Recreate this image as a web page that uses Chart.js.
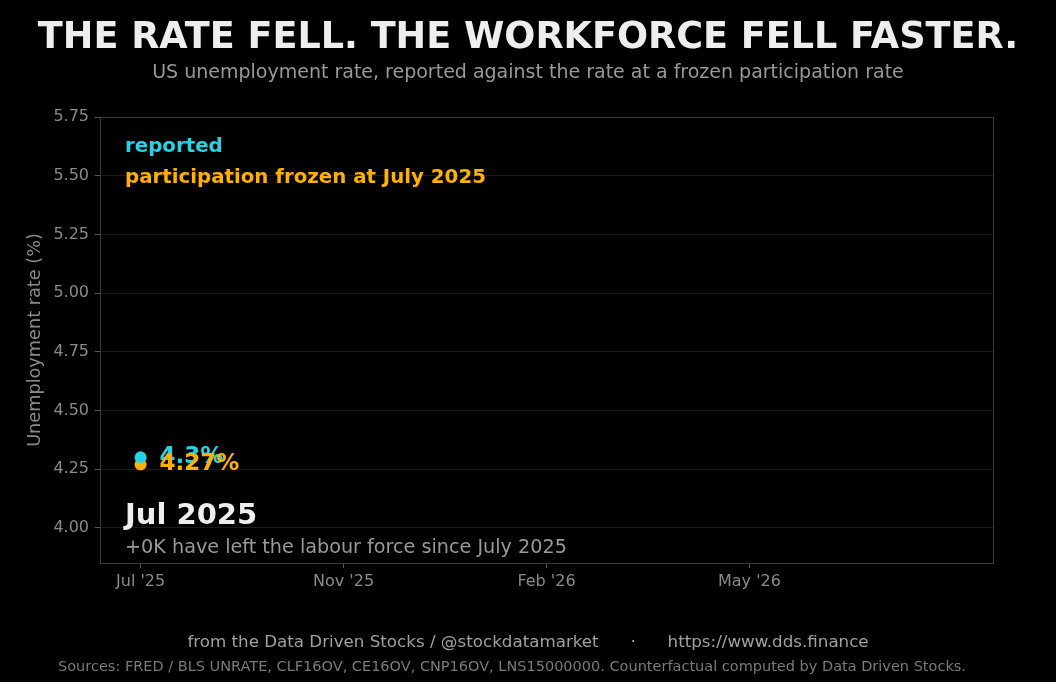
<!DOCTYPE html>
<html>
<head>
<meta charset="utf-8">
<script src="https://cdn.jsdelivr.net/npm/chart.js@4"></script>
<style>
html,body{margin:0;padding:0;background:#000;}
#wrap{width:1056px;height:682px;position:relative;}
</style>
</head>
<body>
<div id="wrap"><canvas id="c" width="1056" height="682"></canvas></div>
<script>
// ---- data ----
const categories = ["Jul 2025"];
const reported = [4.3];
const frozen = [4.27];
const reportedLabels = ["4.3%"];
const frozenLabels = ["4.27%"];
const xTickValues = [0, 1, 2, 3];
const xTickLabels = ["Jul '25", "Nov '25", "Feb '26", "May '26"];
const leftSinceJuly = ["+0K"];

const TITLE = "THE RATE FELL. THE WORKFORCE FELL FASTER.";
const SUBTITLE = "US unemployment rate, reported against the rate at a frozen participation rate";
const FOOT1 = "from the Data Driven Stocks / @stockdatamarket      \u00b7      https://www.dds.finance";
const FOOT2 = "Sources: FRED / BLS UNRATE, CLF16OV, CE16OV, CNP16OV, LNS15000000. Counterfactual computed by Data Driven Stocks.";

const CYAN = '#26d3e4';
const ORANGE = '#ffb000';
const SANS = '"DejaVu Sans", sans-serif';

const textPlugin = {
  id: 'texts',
  beforeDraw(chart) {
    const ctx = chart.ctx;
    ctx.save();
    ctx.fillStyle = '#000';
    ctx.fillRect(0, 0, chart.width, chart.height);
    ctx.restore();
  },
  afterDraw(chart) {
    const ctx = chart.ctx;
    const a = chart.chartArea;
    const xs = chart.scales.x, ys = chart.scales.y;
    ctx.save();
    // frame
    ctx.strokeStyle = '#3a3a3a';
    ctx.lineWidth = 1;
    ctx.strokeRect(Math.round(a.left) + 0.5, Math.round(a.top) + 0.5, Math.round(a.right - a.left), Math.round(a.bottom - a.top));
    // title
    ctx.textAlign = 'center';
    ctx.textBaseline = 'alphabetic';
    ctx.fillStyle = '#eeeeee';
    ctx.font = 'bold 36.6px ' + SANS;
    ctx.fillText(TITLE, chart.width / 2, 48);
    ctx.fillStyle = '#999999';
    ctx.font = '19px ' + SANS;
    ctx.fillText(SUBTITLE, chart.width / 2, 78);
    // footer
    ctx.fillStyle = '#a0a0a0';
    ctx.font = '16.7px ' + SANS;
    ctx.fillText(FOOT1, chart.width / 2, 647);
    ctx.fillStyle = '#7a7a7a';
    ctx.font = '14.5px ' + SANS;
    ctx.fillText(FOOT2, 512, 671);
    // legend texts
    ctx.textAlign = 'left';
    ctx.font = 'bold 19.8px ' + SANS;
    ctx.fillStyle = CYAN;
    ctx.fillText('reported', a.left + 25, 152);
    ctx.fillStyle = ORANGE;
    ctx.fillText('participation frozen at July 2025', a.left + 25, 183);
    // point labels
    const last = categories.length - 1;
    ctx.textBaseline = 'middle';
    ctx.font = 'bold 23px ' + SANS;
    ctx.fillStyle = CYAN;
    ctx.fillText(reportedLabels[last], xs.getPixelForValue(last) + 19, ys.getPixelForValue(reported[last]));
    ctx.fillStyle = ORANGE;
    ctx.fillText(frozenLabels[last], xs.getPixelForValue(last) + 19, ys.getPixelForValue(frozen[last]));
    // caption
    ctx.textBaseline = 'alphabetic';
    ctx.fillStyle = '#eeeeee';
    ctx.font = 'bold 29px ' + SANS;
    ctx.fillText(categories[last], a.left + 25, 524);
    ctx.fillStyle = '#999999';
    ctx.font = '19.2px ' + SANS;
    ctx.fillText(leftSinceJuly[last] + ' have left the labour force since July 2025', a.left + 25, 553);
    ctx.restore();
  }
};

new Chart(document.getElementById('c'), {
  type: 'line',
  data: {
    datasets: [
      {
        label: 'reported',
        data: reported.map((v, i) => ({x: i, y: v})),
        borderColor: CYAN, backgroundColor: CYAN,
        pointRadius: 6, pointBorderWidth: 0, borderWidth: 3, showLine: true
      },
      {
        label: 'participation frozen at July 2025',
        data: frozen.map((v, i) => ({x: i, y: v})),
        borderColor: ORANGE, backgroundColor: ORANGE,
        pointRadius: 6, pointBorderWidth: 0, borderWidth: 3, showLine: true
      }
    ]
  },
  options: {
    responsive: false,
    animation: false,
    devicePixelRatio: 1,
    layout: {padding: {left: 25, top: 117, right: 63, bottom: 79}},
    plugins: {
      legend: {display: false},
      title: {display: false},
      tooltip: {enabled: false}
    },
    scales: {
      x: {
        type: 'linear',
        min: -0.2, max: 4.2,
        afterBuildTicks: s => { s.ticks = xTickValues.map(v => ({value: v})); },
        afterFit: s => { s.height = 40; },
        grid: {display: true, drawOnChartArea: false, tickLength: 5, tickColor: '#555'},
        border: {color: '#3a3a3a'},
        ticks: {
          color: '#8a8a8a', font: {family: SANS, size: 16}, padding: 4,
          callback: (v) => { const i = xTickValues.indexOf(v); return i >= 0 ? xTickLabels[i] : ''; },
          maxRotation: 0, autoSkip: false
        }
      },
      y: {
        type: 'linear',
        min: 3.85, max: 5.75,
        afterFit: s => { s.width = 75; },
        grid: {color: '#1c1c1c', tickLength: 5, tickColor: '#555'},
        border: {color: '#3a3a3a'},
        title: {display: true, text: 'Unemployment rate (%)', color: '#8a8a8a', font: {family: SANS, size: 17.7}, padding: {top: 0, bottom: 0}},
        ticks: {
          color: '#8a8a8a', font: {family: SANS, size: 16}, padding: 6,
          stepSize: 0.25, includeBounds: false,
          callback: v => v.toFixed(2)
        }
      }
    }
  },
  plugins: [textPlugin]
});
</script>
</body>
</html>
